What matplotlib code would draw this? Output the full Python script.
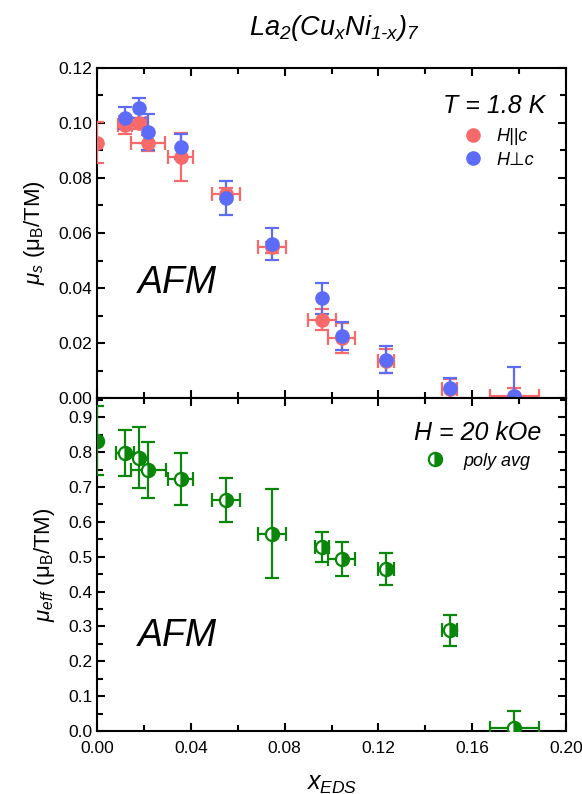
import matplotlib
matplotlib.use('Agg')
import matplotlib.pyplot as plt
from matplotlib.lines import Line2D
from matplotlib.ticker import MultipleLocator, FormatStrFormatter

plt.rcParams['font.family'] = ['Liberation Sans', 'DejaVu Sans']
# math text: italic everywhere (digits too), \mathsf for the upright bits
plt.rcParams['mathtext.fontset'] = 'custom'
plt.rcParams['mathtext.rm'] = 'Liberation Sans:italic'
plt.rcParams['mathtext.it'] = 'Liberation Sans:italic'
plt.rcParams['mathtext.sf'] = 'Liberation Sans'
plt.rcParams['mathtext.bf'] = 'Liberation Sans:bold'

# saturated moment, H || c
x_par = [0.0, 0.0119, 0.018, 0.0219, 0.0357, 0.0549, 0.0745, 0.0958, 0.1043, 0.1232, 0.1505, 0.178]
ms_par = [0.0929, 0.0993, 0.0999, 0.0928, 0.0877, 0.0743, 0.0548, 0.0285, 0.0218, 0.0135, 0.0032, 0.0008]
ms_par_err = [0.0075, 0.0033, 0.002, 0.003, 0.0088, 0.002, 0.002, 0.0037, 0.0053, 0.0043, 0.0038, 0.003]
x_err = [0.0, 0.003, 0.003, 0.0073, 0.0053, 0.006, 0.006, 0.006, 0.0058, 0.0034, 0.0032, 0.0105]

# saturated moment, H perp c
x_perp = [0.0119, 0.018, 0.0219, 0.0357, 0.0549, 0.0745, 0.0958, 0.1043, 0.1232, 0.1505, 0.178]
ms_perp = [0.1017, 0.1054, 0.0968, 0.0914, 0.0727, 0.056, 0.0362, 0.0225, 0.014, 0.0035, 0.0008]
ms_perp_err = [0.004, 0.0037, 0.0066, 0.0046, 0.0062, 0.0057, 0.0058, 0.005, 0.005, 0.0038, 0.0105]

# effective moment, polycrystalline average
mu_eff = [0.832, 0.797, 0.784, 0.748, 0.722, 0.662, 0.566, 0.528, 0.493, 0.466, 0.289, 0.0095]
mu_eff_err = [0.099, 0.065, 0.088, 0.08, 0.075, 0.063, 0.127, 0.042, 0.048, 0.046, 0.044, 0.048]
x_err_eff = [0.0, 0.004, 0.0, 0.0075, 0.0053, 0.006, 0.006, 0.003, 0.0058, 0.0034, 0.0032, 0.0105]

red = '#f86a6a'
blue = '#5c6cf8'
green = '#0a860a'

fig = plt.figure(figsize=(5.82, 7.94), dpi=100)
ax1 = fig.add_axes([0.1667, 0.4987, 0.8058, 0.4157])
ax2 = fig.add_axes([0.1667, 0.0793, 0.8058, 0.4194], sharex=ax1)

eb = dict(fmt='o', ms=9.5, elinewidth=1.6, capsize=5, capthick=1.6, linestyle='none', zorder=3)
ax1.errorbar(x_par, ms_par, yerr=ms_par_err, xerr=x_err, color=red, **eb)
ax1.errorbar(x_perp, ms_perp, yerr=ms_perp_err, color=blue, **eb)

ax2.errorbar(x_par, mu_eff, yerr=mu_eff_err, xerr=x_err_eff, color=green, fmt='o', ms=9.5,
             fillstyle='right', markerfacecoloralt='white', markeredgewidth=1.6,
             elinewidth=1.6, capsize=5, capthick=1.6, zorder=3)

ax1.set_xlim(0, 0.2)
ax1.set_ylim(0, 0.12)
ax2.set_ylim(0, 0.955)

ax1.xaxis.set_major_locator(MultipleLocator(0.04))
ax1.xaxis.set_minor_locator(MultipleLocator(0.02))
ax1.yaxis.set_major_locator(MultipleLocator(0.02))
ax1.yaxis.set_minor_locator(MultipleLocator(0.01))
ax1.yaxis.set_major_formatter(FormatStrFormatter('%.2f'))
ax2.yaxis.set_major_locator(MultipleLocator(0.1))
ax2.yaxis.set_minor_locator(MultipleLocator(0.05))
ax2.yaxis.set_major_formatter(FormatStrFormatter('%.1f'))
ax2.xaxis.set_major_formatter(FormatStrFormatter('%.2f'))

for ax in (ax1, ax2):
    for s in ax.spines.values():
        s.set_linewidth(1.5)
    ax.tick_params(which='both', direction='in', top=True, right=True, width=1.5, labelsize=12.5)
    ax.tick_params(which='major', length=6)
    ax.tick_params(which='minor', length=4)
ax2.tick_params(axis='x', pad=7)
plt.setp(ax1.get_xticklabels(), visible=False)

ax1.set_ylabel(r'$\mu_s$ ($\mathsf{\mu_B}$/TM)', fontsize=16, labelpad=8)
ax2.set_ylabel(r'$\mu_{eff}$ ($\mathsf{\mu_B}$/TM)', fontsize=16, labelpad=8)
ax2.set_xlabel(r'$x_{EDS}$', fontsize=18, labelpad=12)

fig.text(0.574, 0.956, r'$La_2(Cu_xNi_{1\text{-}x})_7$', fontsize=19.5, ha='center', va='baseline')

ax1.text(0.955, 0.864, 'T = 1.8 K', transform=ax1.transAxes, fontsize=18, style='italic',
         ha='right', va='baseline')
ax2.text(0.947, 0.874, 'H = 20 kOe', transform=ax2.transAxes, fontsize=18, style='italic',
         ha='right', va='baseline')
ax1.text(0.087, 0.318, 'AFM', transform=ax1.transAxes, fontsize=27, style='italic')
ax2.text(0.087, 0.255, 'AFM', transform=ax2.transAxes, fontsize=27, style='italic')

# legends show the markers only
h1 = [Line2D([], [], marker='o', ls='none', ms=9.5, color=red),
      Line2D([], [], marker='o', ls='none', ms=9.5, color=blue)]
ax1.legend(h1, ['H||c', 'H\u22a5c'], loc='upper left', bbox_to_anchor=(0.7825, 0.817),
           frameon=False, borderaxespad=0, borderpad=0, handlelength=1.0,
           handletextpad=0.8, labelspacing=0.35, prop={'size': 13, 'style': 'italic'})
h2 = [Line2D([], [], marker='o', ls='none', ms=9.5, color=green, fillstyle='right',
             markerfacecoloralt='white', markeredgewidth=1.6)]
ax2.legend(h2, ['poly avg'], loc='upper left', bbox_to_anchor=(0.7015, 0.836),
           frameon=False, borderaxespad=0, borderpad=0, handlelength=1.0,
           handletextpad=1.1, prop={'size': 13, 'style': 'italic'})

fig.savefig('out.png', dpi=100)
